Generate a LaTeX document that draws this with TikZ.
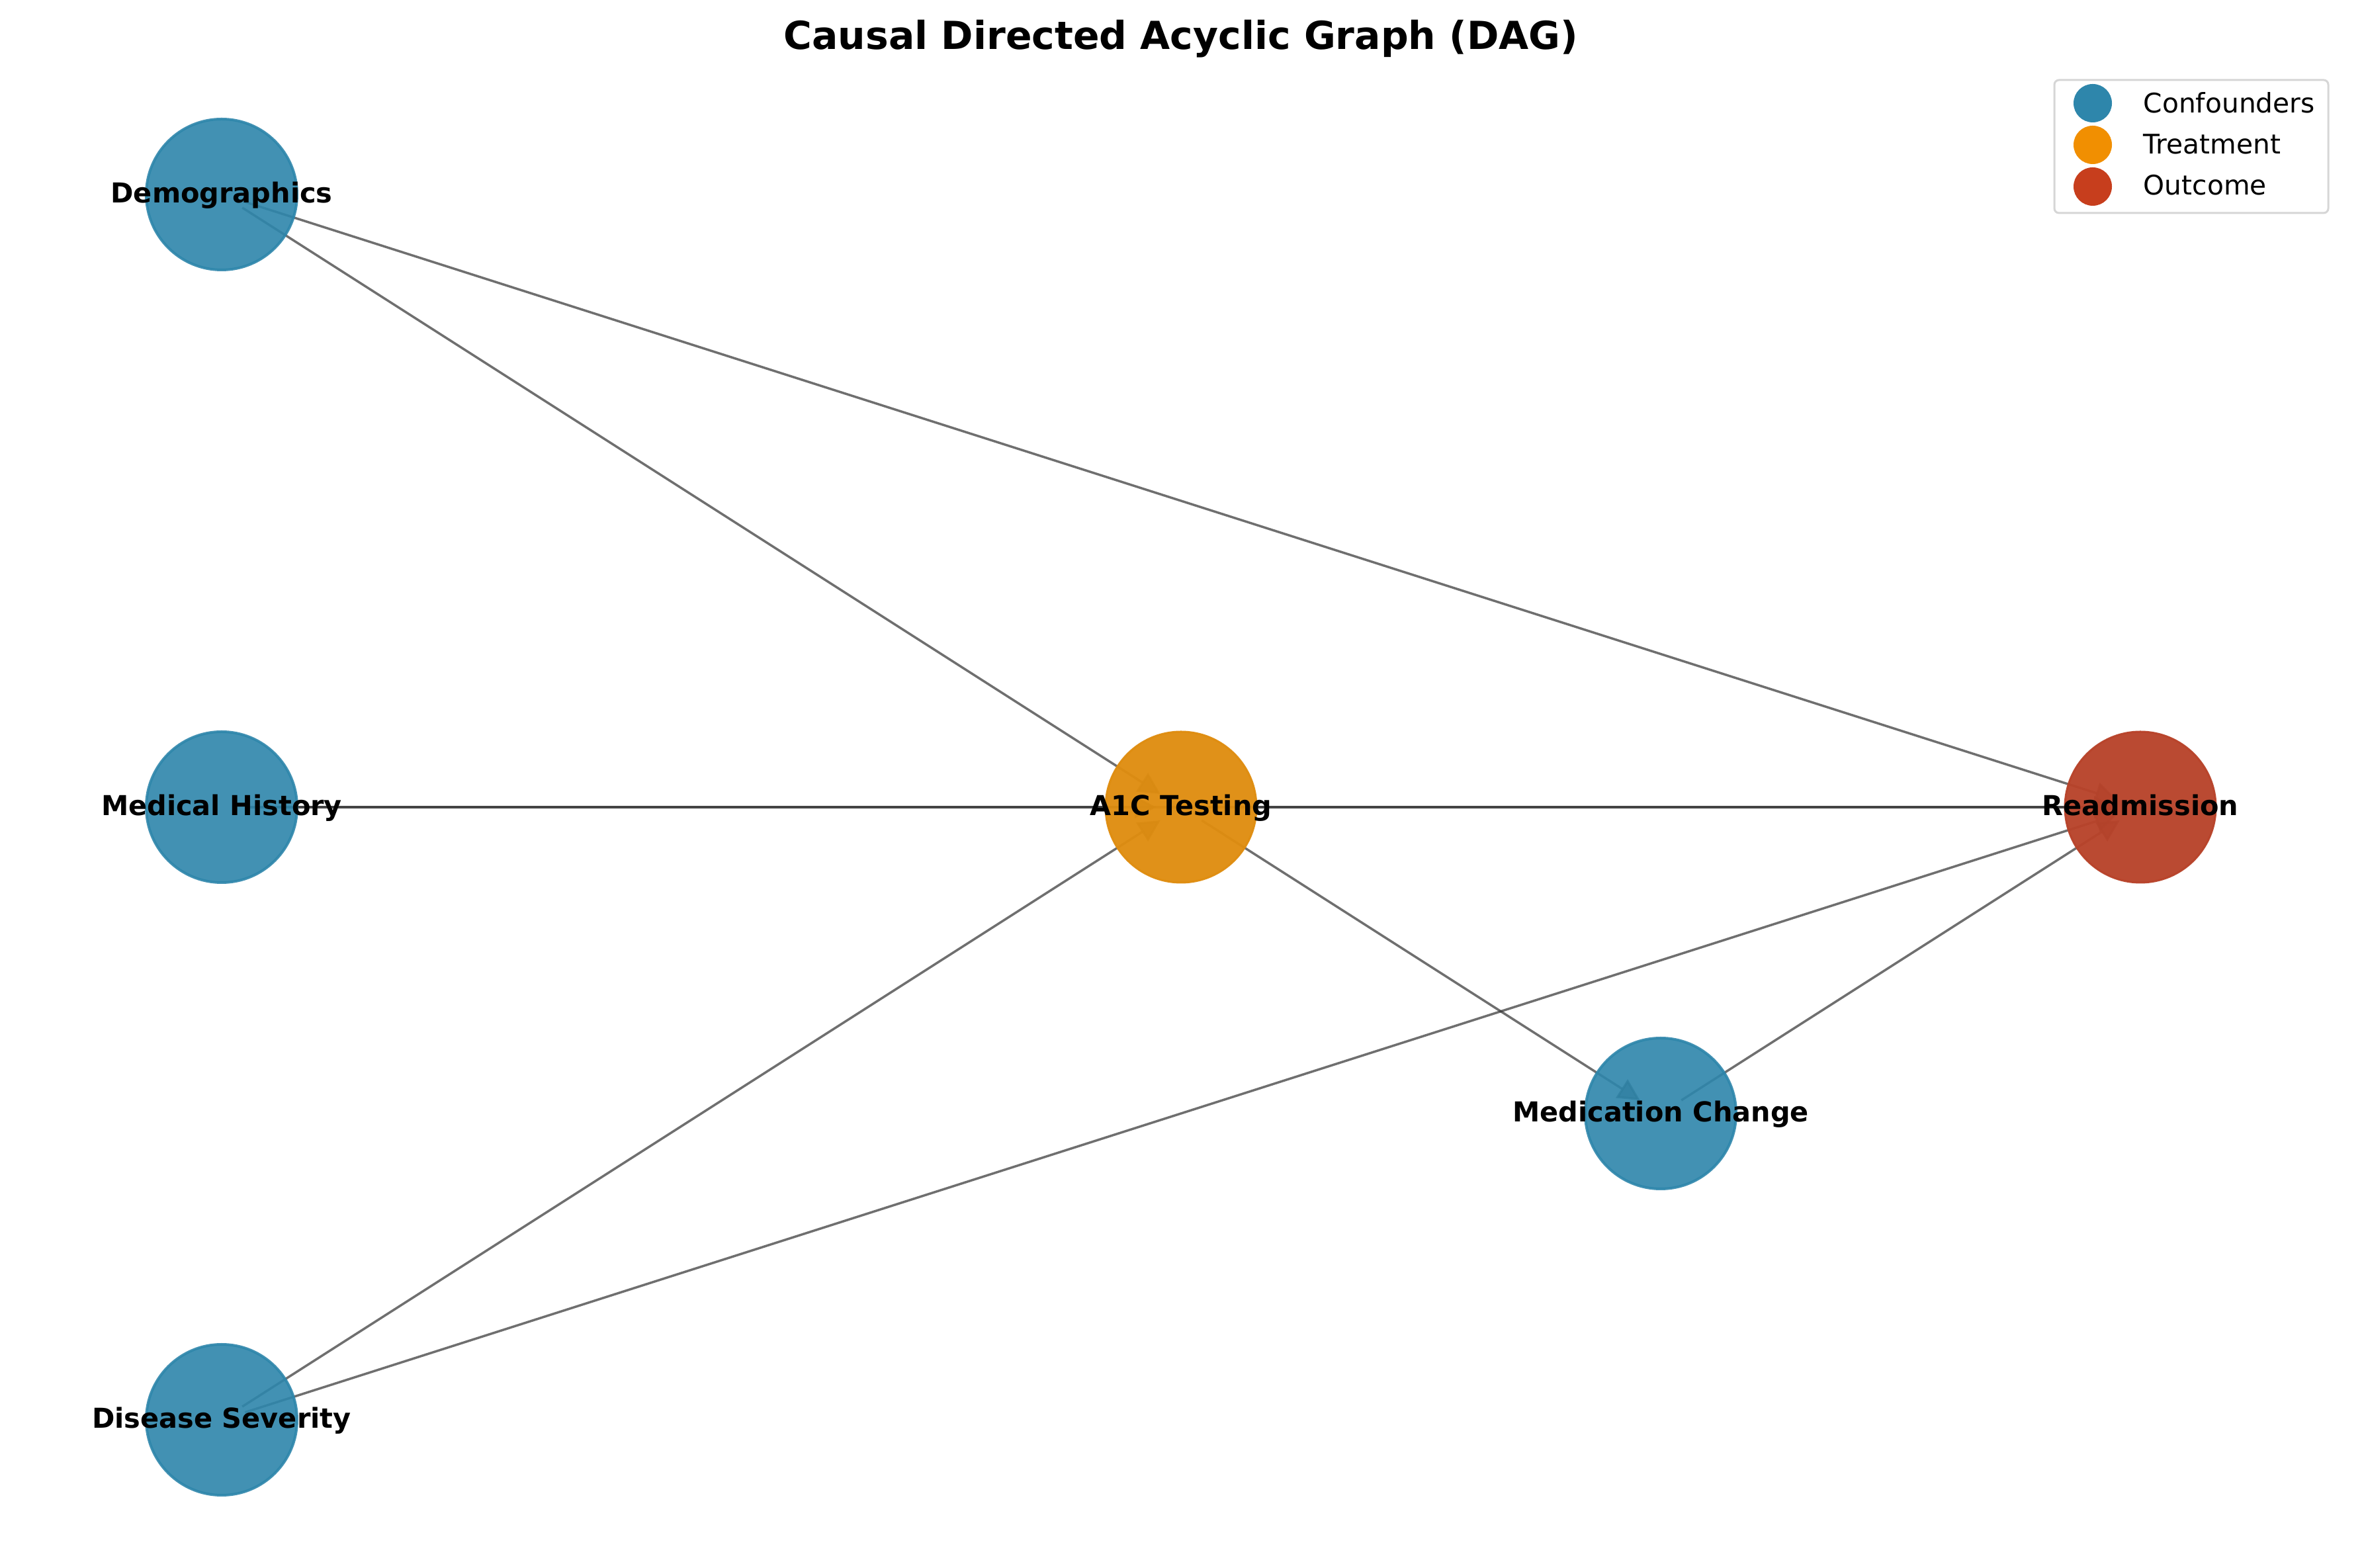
\documentclass[tikz,border=0pt]{standalone}
\usepackage{fontspec}
\setmainfont{DejaVu Sans}
\usetikzlibrary{arrows.meta,backgrounds}
\definecolor{conf}{HTML}{2E86AB}
\definecolor{treat}{HTML}{F18F01}
\definecolor{outc}{HTML}{C73E1D}
\definecolor{treatnode}{HTML}{DF8D10}
\definecolor{outcnode}{HTML}{B8432A}
\definecolor{edgecol}{HTML}{333333}
\definecolor{legedge}{HTML}{D6D6D6}
\tikzset{
  dagnode/.style={circle, minimum size=2.28cm, inner sep=0pt, fill=#1, draw=#1,
    fill opacity=0.9, draw opacity=0.9, line width=0.04cm},
  dagnodeb/.style={circle, minimum size=2.28cm, inner sep=0pt, fill=#1, draw=#1,
    fill opacity=0.96, draw opacity=0.96, line width=0.03cm},
  daglabel/.style={anchor=base, inner sep=0pt, font=\fontsize{11.8pt}{14pt}\selectfont\bfseries},
  dagedge/.style={draw=edgecol, opacity=0.7, line width=0.035cm,
    -{Triangle[length=0.33cm, width=0.33cm]}, shorten <=0.37cm, shorten >=0.37cm},
  legmark/.style={circle, minimum size=0.58cm, inner sep=0pt, fill=#1},
  legtext/.style={anchor=base west, inner sep=0pt, font=\fontsize{11.6pt}{14pt}\selectfont},
}
\begin{document}
\begin{tikzpicture}
\useasboundingbox (0,0) rectangle (35.70,23.70);
% nodes
\node[dagnode=conf] (dem) at (3.35,20.76) {};
\node[dagnode=conf] (med) at (3.35,11.50) {};
\node[dagnode=conf] (sev) at (3.35,2.24) {};
\node[dagnodeb=treatnode] (a1c) at (17.85,11.50) {};
\node[dagnode=conf] (chg) at (25.10,6.87) {};
\node[dagnodeb=outcnode] (rea) at (32.35,11.50) {};
% edges
\begin{scope}[on background layer]
\fill[white] (0,0) rectangle (35.70,23.70);
\draw[dagedge] (dem.center) -- (a1c.center);
\draw[dagedge] (dem.center) -- (rea.center);
\draw[dagedge] (med.center) -- (a1c.center);
\draw[dagedge] (med.center) -- (rea.center);
\draw[dagedge] (sev.center) -- (a1c.center);
\draw[dagedge] (sev.center) -- (rea.center);
\draw[dagedge] (a1c.center) -- (rea.center);
\draw[dagedge] (a1c.center) -- (chg.center);
\draw[dagedge] (chg.center) -- (rea.center);
\end{scope}
% labels
\node[daglabel] (ldem) at ([yshift=-0.125cm]dem.center) {Demographics};
\node[daglabel] (lmed) at ([yshift=-0.125cm]med.center) {Medical History};
\node[daglabel] (lsev) at ([yshift=-0.125cm]sev.center) {Disease Severity};
\node[daglabel] (la1c) at ([yshift=-0.125cm]a1c.center) {A1C Testing};
\node[daglabel] (lchg) at ([yshift=-0.125cm]chg.center) {Medication Change};
\node[daglabel] (lrea) at ([yshift=-0.125cm]rea.center) {Readmission};
% title
\node[anchor=base, inner sep=0pt, font=\fontsize{16.6pt}{20pt}\selectfont\bfseries] (title) at (17.85,22.95) {Causal Directed Acyclic Graph (DAG)};
% legend
\draw[legedge, line width=0.03cm, rounded corners=0.07cm, fill=white] (31.05,20.48) rectangle (35.19,22.49);
\node[legmark=conf] (m1) at (31.63,22.14) {};
\node[legmark=treat] (m2) at (31.63,21.51) {};
\node[legmark=outc] (m3) at (31.63,20.88) {};
\node[legtext] (t1) at (32.39,21.99) {Confounders};
\node[legtext] (t2) at (32.39,21.37) {Treatment};
\node[legtext] (t3) at (32.39,20.75) {Outcome};
\end{tikzpicture}
\end{document}
